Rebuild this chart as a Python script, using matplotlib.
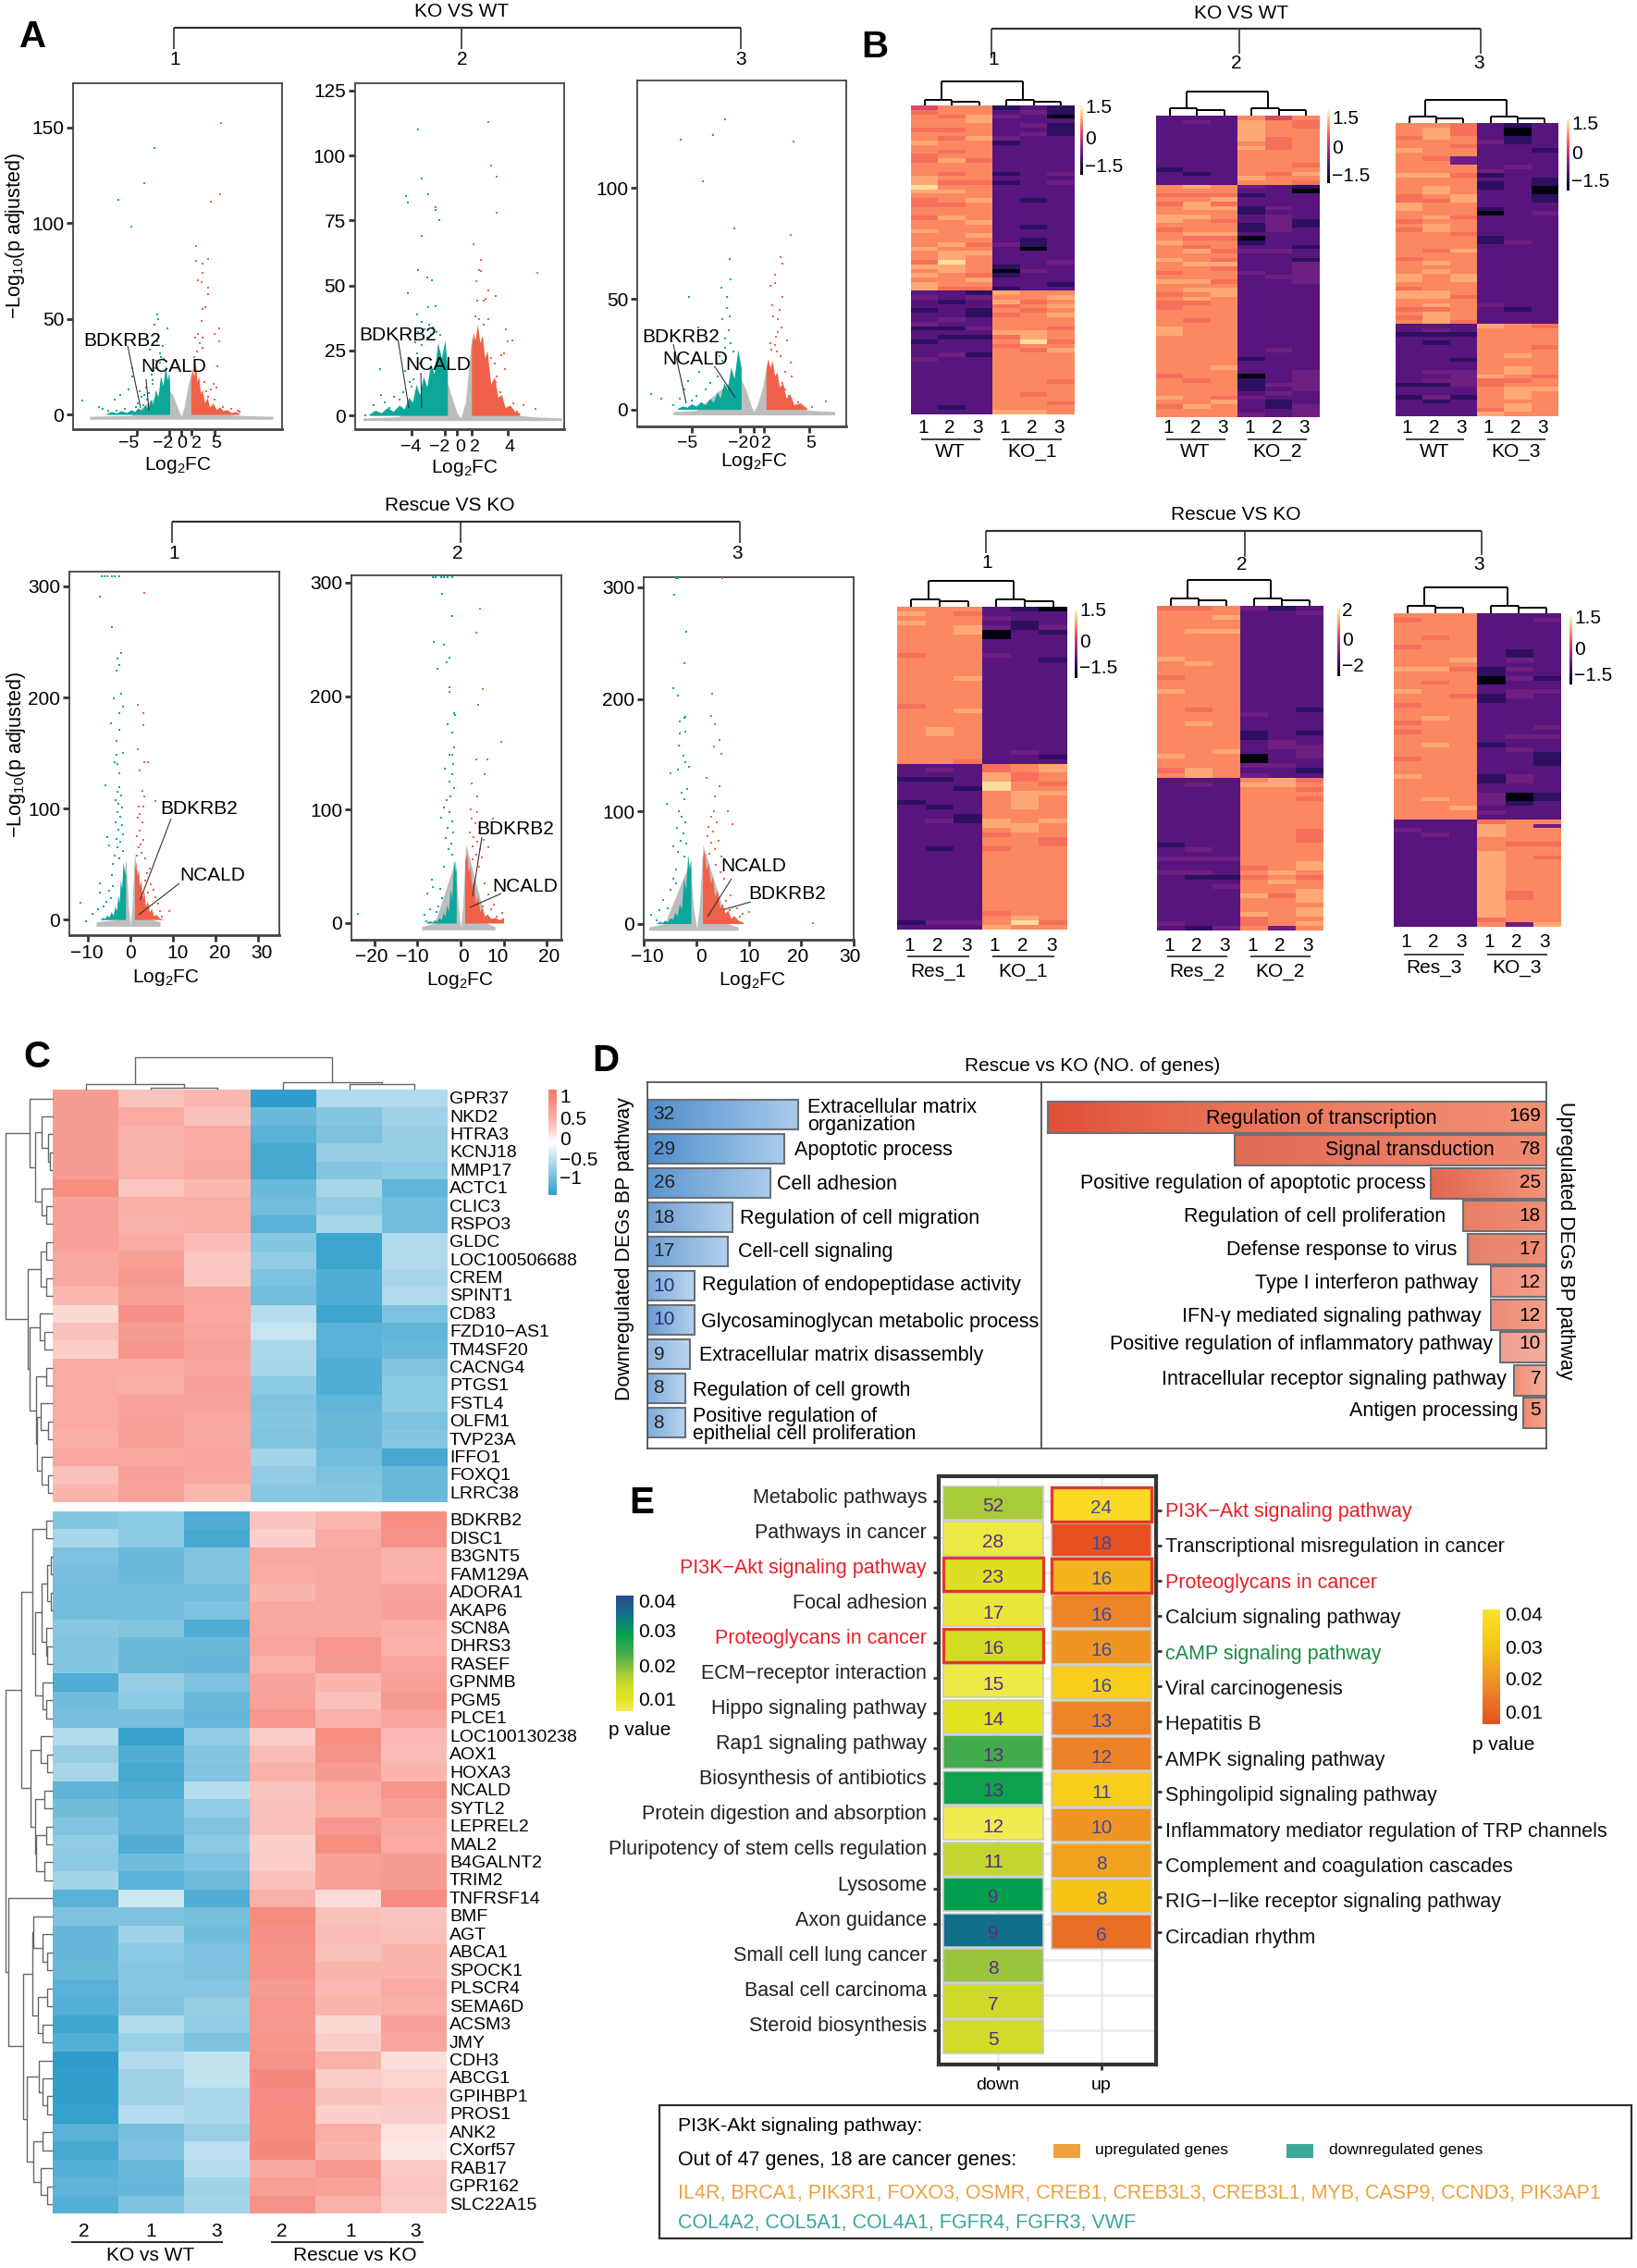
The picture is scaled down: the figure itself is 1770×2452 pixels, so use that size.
import numpy as np
import matplotlib
matplotlib.use("Agg")
import matplotlib.pyplot as plt
from matplotlib.cm import ScalarMappable
from matplotlib.colors import LinearSegmentedColormap, Normalize

plt.rcParams["font.family"] = ["Liberation Sans", "DejaVu Sans"]
plt.rcParams["mathtext.default"] = "regular"

W, H = 1770, 2452
TEAL, RED, GRAY = "#0aa79a", "#ee6148", "#bdbdbd"

# ---------- panel A: volcano plots, points and dense-cloud outlines
v1_teal = [(-7.6,112),(-6,98),(-4.5,121),(-3.2,139),(-2.9,52),(-2.8,50),(-3.2,47),(-1.7,45),(-3.8,34),(-11.9,7.5),(-9.9,4),(-8,8),(-7.3,10),(-6.3,13),(-5.9,20),(-5.9,24),(-4.8,9),(-4.2,14),(-3.6,21),(-3,28),(-2.6,32),(-5.2,6),(-6.8,3),(-7.8,2),(-8.8,2),(-9.4,3),(-5.5,4),(-4.6,5),(-4.1,8),(-3.4,16),(-2.2,36),(-2.4,30),(-2.9,38),(-3.5,18),(-3.9,11),(-2.6,27),(-2.1,29),(-3.1,24),(-4.4,10),(-5,12)]
v1_red = [(4.8,152),(4.7,115),(3.6,111),(1.8,88),(3.2,81),(1.8,80),(2.6,79),(2.5,74),(2,70),(2.4,69),(3.2,66),(3.2,63),(2.9,56),(2.5,55),(2.4,49),(4.5,45),(4,42),(4.5,38),(2,42),(2.6,40),(1.7,40),(2.2,37),(1.9,33),(2.6,35),(1.6,30),(4.3,25),(3.9,16),(4.2,14),(3.5,13),(3,12),(2.8,17),(3.2,9),(4,8),(5,4),(6,3),(6.8,2),(7,1.5)]
v1_teal_band = ([-9,-8.4,-7.8,-7.2,-6.6,-6,-5.6,-5.2,-4.8,-4.4,-4,-3.7,-3.4,-3.1,-2.8,-2.5,-2.2,-1.9,-1.7,-1.5,-1.4], [.5,1.5,.8,2,1,2.5,1.5,3.5,2,5,3,8,5,13,9,20,15,26,18,22,16])
v1_red_band = ([1.15,1.3,1.5,1.7,1.9,2.1,2.3,2.5,2.8,3.1,3.4,3.8,4.2,4.6,5,5.5,6,6.5,7], [18,24,20,27,17,20,11,13,6,9,4,6,2.5,4,2,2.5,1,1.5,.5])
v1_gray = ([-11,-6,-1.6,-1,-0.4,0,0.4,0.8,1.2,3,7,11], [-1,-0.5,14,10,3,-1,5,15,22,1,-0.5,-1])

v2_teal = [(-3.45,110),(-3.1,91),(-2.6,85),(-4.4,84.5),(-4.3,82),(-2,80),(-2,79),(-1.7,75),(-3.1,69),(-3.45,56),(-2.7,53),(-2.3,52),(-4.3,47),(-2,42),(-2.6,41.6),(-3.5,39),(-2.5,35),(-3.1,36),(-6.6,18),(-7.1,4),(-7.8,0.2),(-6.5,8),(-6.2,5),(-5.4,7),(-4.7,9),(-3.8,14),(-3.3,20),(-2.9,33),(-2.2,34),(-1.9,32),(-3.4,32),(-2.7,30),(-1.6,31),(-4.1,13),(-4.5,17),(-5,6),(-5.8,3),(-3.7,28),(-3.5,24),(-4,11),(-3.1,27),(-2.4,31)]
v2_red = [(2.4,113),(2.65,96),(3.1,92),(3.1,78),(1.2,66),(1.8,60),(1.6,56),(1.8,55.6),(1.4,51.5),(6.5,55),(2.4,48),(3,46),(2.2,45),(3.85,33),(4.4,29),(4,28.5),(3.7,24),(3.5,23),(3.8,18),(3,13),(2.9,7),(4.5,4.5),(5.3,4),(6.3,2.5),(4.2,1),(1.5,44),(2,44),(1.3,38),(1.6,37),(2,35),(2.4,37),(2.6,22),(2.9,20),(3.1,15),(3.4,9),(2.4,10),(3.6,3),(4,2),(4.8,1.5)]
v2_teal_band = ([-7.5,-7,-6.5,-6,-5.5,-5,-4.6,-4.2,-3.9,-3.6,-3.3,-3,-2.7,-2.4,-2.1,-1.8,-1.5,-1.2,-1], [.5,2,1,3,1.5,4,2.5,7,5,12,8,15,11,20,16,28,22,29,17])
v2_red_band = ([1,1.15,1.3,1.5,1.7,1.9,2.1,2.3,2.6,2.9,3.2,3.5,3.8,4.2,4.6,5], [26,32,29,35,28,31,22,25,12,15,7,8,3,4,1.5,1])
v2_gray = ([-8,-5,-1.2,-0.7,-0.2,0.1,0.5,1,3,6,8.5], [-1,-0.5,16,8,1,-1,5,30,1,-0.5,-1])

v3_teal = [(-2.5,131),(-3.5,124),(-6.3,122),(-4.4,103),(-1.7,82),(-2.1,68),(-2,59),(-2.8,55),(-5.6,51),(-2.3,51),(-2.3,46),(-2.1,42),(-2.7,41),(-2.2,36),(-4.8,37),(-2.5,32),(-8.9,7),(-8,5),(-7,2),(-6.4,5),(-6,9),(-5.7,13),(-4.7,17),(-3.4,19),(-2.5,28),(-2,30),(-3,24),(-3.8,12),(-4.2,9),(-5,6),(-5.4,4),(-3.1,15),(-1.8,26),(-2.7,22)]
v3_red = [(3.4,121),(3.2,79),(2.3,69),(2.5,66),(1.8,61),(1.8,57),(1.4,56),(2.5,51),(1.6,47),(2.2,45),(1.7,42),(2.1,41),(2.4,37),(2.1,35),(2.9,31),(3.2,21),(2.75,17),(2.5,12),(6.2,3.5),(5,1),(3.7,2),(3,6),(4.2,0.7),(1.4,30),(1.8,29),(2,26),(1.5,27),(2.3,24),(2.7,9),(3.3,15),(3.8,3),(1.9,33)]
v3_teal_band = ([-6.6,-6.2,-5.8,-5.4,-5,-4.6,-4.2,-3.8,-3.5,-3.2,-2.9,-2.6,-2.3,-2,-1.7,-1.4,-1.1], [.5,1.5,1,2.5,1.5,3.5,2,5,3,8,5,12,9,19,14,27,19])
v3_red_band = ([1.05,1.2,1.4,1.6,1.8,2,2.2,2.5,2.8,3.1,3.5,4,4.6], [18,23,19,22,15,17,10,12,5,7,2,3,.5])
v3_gray = ([-7,-5,-1.3,-0.7,-0.2,0,0.3,0.7,1.1,3,5,7], [-1,-0.5,16,9,1,-1,2,9,19,1,-0.5,-1])

v4_teal = [(-6.6,309),(-6,309),(-5.5,309),(-4.3,309),(-3.6,309),(-2.6,309),(-7.1,291),(-4.3,263),(-2.2,240),(-2.9,235),(-2.6,229),(-3.2,224),(-2.1,203),(-3.8,199),(-1.6,192),(-2.6,186),(-4.6,177),(-2.6,171),(-3.3,161),(-1.8,150),(-3.2,148),(-3.6,142),(-2.9,140),(-2.5,132),(-5.8,121),(-2.5,119),(-3,115),(-2.2,112),(-3.4,108),(-2.7,104),(-1.9,101),(-3.1,97),(-2.4,93),(-3.5,88),(-2,85),(-2.8,81),(-1.6,77),(-3.2,73),(-2.3,70),(-2.9,65),(-1.8,62),(-3.6,58),(-2.5,55),(-11.7,15),(-10.4,-1.5),(-8.8,5),(-7.5,9),(-7.1,24),(-7.1,33),(-4.2,50),(-4.9,67),(-5.5,74),(-6.2,12),(-5,26),(-4.4,40),(-4.1,30),(-5.6,16),(-4.6,19)]
v4_red = [(3.4,294),(1.7,193),(3,186),(3,175),(1.7,153),(3.4,142),(4.1,142),(2.1,134),(2.9,116),(3.2,111),(6,107),(9.2,7.5),(2,102),(3,102),(2.3,95),(1.8,92),(2.8,88),(2.2,80),(1.6,75),(3.1,72),(2.4,68),(1.9,65),(2.7,60),(3.5,55),(1.5,58),(4.5,46),(3.9,42),(4.8,32),(5.4,27),(5.9,20),(6.5,14),(6.9,8),(7.5,3),(4.2,24),(3.6,35)]
v4_teal_band = ([-7,-6.5,-6,-5.5,-5,-4.5,-4,-3.6,-3.2,-2.9,-2.6,-2.3,-2,-1.7,-1.4,-1.1], [.5,2,1,4,2,7,4,12,8,22,15,36,28,52,44,40])
v4_red_band = ([1,1.3,1.6,1.9,2.2,2.5,2.8,3.2,3.6,4,4.5,5,5.5,6,6.8,7.6], [46,52,40,45,30,36,20,26,12,17,7,10,3,5,1.5,.5])
v4_gray = ([-8,-3,-1,-0.4,0,0.4,1,3,7], [-2,0,55,10,-5,10,60,2,-2])

v5_teal = [(-6.4,305),(-5.8,305),(-4.5,305),(-3.9,305),(-3,305),(-1.9,305),(-4.3,290),(-1.9,271),(-6.2,248),(-3.9,245),(-2.6,234),(-3.2,230),(-5.4,224),(-2.6,208),(-2.6,204),(-1.5,185),(-1.3,183),(-3,175),(-1.9,168),(-1.5,155),(-2.6,148),(-1.9,148),(-1.8,140),(-3.6,136),(-1.9,131),(-2.6,125),(-1.5,119),(-2.3,112),(-3.1,108),(-3.9,102),(-2.5,98),(-4.5,93),(-2,90),(-2.9,84),(-1.7,80),(-3.4,75),(-2.2,70),(-2.8,65),(-1.9,60),(-23.7,8),(-7.7,26),(-6.7,38),(-6.4,32),(-3.9,50),(-8.4,7),(-7.1,12),(-5.2,15),(-8,1.5),(-4.6,30),(-4.2,22),(-5.6,10)]
v5_red = [(4.6,277),(3.6,256),(5.2,206),(4,192),(9.4,160),(3.6,144),(6.2,144),(5.7,131),(2.6,123),(3.9,112),(2.3,100),(7.5,92),(3.9,98),(6.4,67),(5.4,73),(9.7,9),(8.4,6),(7,12),(5.2,15),(2.6,92),(3.4,88),(4.4,85),(2.1,80),(3.1,76),(3.9,72),(4.6,65),(2.8,68),(5,58),(3.6,60),(4.4,50),(2.9,56),(5.6,35),(6.5,25),(7.8,16)]
v5_teal_band = ([-8,-7.2,-6.5,-6,-5.5,-5,-4.5,-4,-3.6,-3.2,-2.8,-2.4,-2,-1.6,-1.2,-1], [.5,2,1,3,1.5,5,3,9,6,16,10,30,22,56,45,50])
v5_red_band = ([1,1.4,1.8,2.2,2.6,3,3.5,4,4.5,5,5.6,6.2,7,8,9,10], [55,62,45,50,32,38,18,24,10,14,6,8,4,5,3,5])
v5_gray = ([-9,-6,-1.2,-0.5,0,0.5,1.2,6,8], [-3,0,55,14,-4,14,70,0,-3])

v6_teal = [(-3.9,308),(-3.4,308),(-4.1,293),(-1.9,260),(-2.3,232),(-4.4,210),(-3.5,203),(-2,184),(-2.2,183),(-3.1,180),(-3.1,169),(-2,171),(-3.3,159),(-2.4,150),(-2,144),(-1.4,140),(-3.5,137),(-4.9,134),(-1.7,120),(-2.8,117),(-2.2,111),(-5.6,107),(-3.3,100),(-2.7,95),(-2,90),(-3.7,85),(-2.4,80),(-3,74),(-1.9,71),(-4.4,69),(-3.4,64),(-2.2,60),(-8.6,8),(-7,12),(-6.3,21),(-4.9,30),(-3.8,36),(-5.5,14),(-7.5,3),(-4.4,40),(-3.9,48)]
v6_red = [(5,308),(3.1,205),(2.9,185),(3.6,178),(4.4,164),(3.4,158),(4.8,151),(2,130),(4.4,122),(3.6,113),(6,100),(7,89),(22.3,0.6),(10,10),(8.4,6.5),(6.3,12),(5.7,20),(3.4,100),(2.8,95),(3.9,90),(2.4,86),(3.2,82),(2.1,78),(4.3,74),(2.8,72),(3.6,66),(4.8,60),(2.5,62),(5.4,40),(4.6,46),(3.8,52),(6.6,25),(7.8,14),(8.8,9)]
v6_teal_band = ([-7.5,-7,-6.5,-6,-5.5,-5,-4.5,-4,-3.6,-3.2,-2.8,-2.4,-2,-1.6,-1.3,-1], [.5,2,1,3,1.5,5,4,10,7,18,13,40,30,62,48,58])
v6_red_band = ([1.2,1.5,1.9,2.3,2.7,3.1,3.5,4,4.5,5,5.5,6,6.6,7.2,8,9], [58,65,48,54,36,42,24,30,14,18,9,12,5,7,3,1])
v6_gray = ([-9,-6,-1.2,-0.5,0.1,0.6,1.3,6,8], [-3,0,55,14,-4,14,70,0,-3])

# ---------- panel B: heat map columns, one digit per row band (0 darkest, 9 lightest)
heat_levels = [.03, .17, .27, .33, .45, .6, .7, .75, .82, .93]
h1_cols = ["5677767787 7667778898 7667767787 7787768787 88 2322122312 2122232222 22222222",
           "7767767677 6787767678 7767787777 7878898877 76 2212223212 1222322222 22222212",
           "7788777877 7767777677 7877778778 7678777768 76 1322112232 1222122222 22222222",
           "1232222312 2222212122 2222222222 2322221012 21 8786767778 6767777777 77777778",
           "2322323222 2222222222 2122222122 1102222322 22 7767677778 8976777777 77767778",
           "1102111222 2222232322 2222222222 2222232222 12 7878787767 7678777777 67777677"]
h2_cols = ["2222222222 221222 7767677887 6778777877 6787767667 7778877777 7777677778 7677",
           "2322222222 222122 8767887877 7867687787 7787878677 7677777777 7777767777 7877",
           "2222222222 222222 7768687767 7867767686 7767887777 7777777777 7787777776 8777",
           "7888887877 777787 3212211221 1201232222 3222222222 2222222222 1222011123 2223",
           "5777766677 777677 2222232333 3222232222 2322222222 2222222232 2222223232 1122",
           "7667777777 767876 1022222211 2222122133 3332222222 2222222222 2223333322 2333"]
h3_cols = ["7776778777 7787777668 8776767777 7767778876 88776767 2212222222 2222122122 22",
           "7888777767 7787788767 7787887777 6778787777 88786888 2312122222 2323122312 22",
           "6667767733 7767777887 7767776777 8777778877 76777776 2212222212 2333322122 22",
           "2222322222 2312112222 1022222112 2222222222 22232222 8777777777 7786677777 68",
           "1001122222 3222222222 2222222232 2222222222 22221222 7777777877 8876788878 87",
           "2222221222 2221100112 2322222222 2222222222 22222222 6777767777 7767787777 77"]
h4_cols = ["7878777777 6777777777 7677777777 7777 2221222212 2222222222 2222222222 222212",
           "7777777777 7777777777 7777778877 7777 2321222221 2232222212 2222222222 222232",
           "7677887777 7777787777 7787777777 7776 2222212222 2112222222 2222222222 222232",
           "2232300222 3222222222 2222222222 2222 6688997777 7788767767 7777777777 776778",
           "1221122222 2222222222 2222222222 2322 7766778888 7778877777 7777777777 777897",
           "0222312222 2122222222 2222222222 2212 8877678777 7787776677 7777777777 777767"]
h5_cols = ["6777777777 7877767787 7777777777 7787767 2222222222 2222122322 3222222222 232",
           "6777787777 7787777777 7767787777 7777788 2322222222 2222232322 3122222222 221",
           "7787787777 7777777777 7777777777 7877777 2222222222 2222222322 2123222222 223",
           "3222222222 2222222222 2223222112 2200323 7877777777 7777777776 7677787778 667",
           "1222222222 2222222222 2222222223 3222322 8877777777 7777777777 8787767777 773",
           "2322222222 2222222222 2212222122 3332212 6767677777 7666777788 7677888788 787"]
h6_cols = ["7677777677 7787777877 6777676777 7767778777 777777 2232222222 2222222222 2222",
           "7777767777 7787767777 7778777778 7777777777 787777 2223222222 2222222222 2222",
           "7777777777 8767777767 7777777777 7777777777 777877 2222222222 2222222222 2222",
           "2222222222 2211002211 2222222221 2222221122 333232 6888777888 8888888888 8867",
           "2222222211 3232322332 2222222322 3222223322 001222 7777767777 7777776677 7773",
           "2322222222 2222122322 2222232322 2111222222 112222 7377767767 7777777777 7778"]

# ---------- panel C
c_genes_top = ["GPR37","NKD2","HTRA3","KCNJ18","MMP17","ACTC1","CLIC3","RSPO3","GLDC","LOC100506688","CREM","SPINT1","CD83","FZD10\u2212AS1","TM4SF20","CACNG4","PTGS1","FSTL4","OLFM1","TVP23A","IFFO1","FOXQ1","LRRC38"]
c_values_top = [[.75,.4,.5,-1.2,-.45,-.45],[.75,.6,.42,-.85,-.7,-.55],[.75,.55,.6,-.95,-.75,-.6],[.75,.55,.6,-1.05,-.6,-.6],[.75,.55,.62,-1.05,-.7,-.65],[.9,.38,.5,-.85,-.5,-.9],[.7,.58,.58,-.8,-.62,-.8],[.7,.55,.58,-.95,-.5,-.8],[.7,.6,.45,-.7,-1.1,-.45],[.62,.72,.38,-.62,-1.1,-.45],[.62,.78,.38,-.75,-1.0,-.5],[.5,.72,.65,-.8,-1.0,-.45],[.25,.88,.62,-.42,-1.1,-.75],[.42,.75,.65,-.32,-.95,-.9],[.32,.82,.68,-.48,-.95,-.85],[.6,.6,.65,-.5,-1.0,-.72],[.6,.58,.7,-.65,-1.0,-.65],[.6,.68,.68,-.72,-.9,-.65],[.6,.7,.62,-.7,-.85,-.75],[.58,.72,.62,-.72,-.85,-.7],[.62,.62,.65,-.52,-.8,-1.05],[.42,.7,.62,-.62,-.75,-.85],[.52,.68,.5,-.68,-.7,-.85]]
c_genes_bottom = ["BDKRB2","DISC1","B3GNT5","FAM129A","ADORA1","AKAP6","SCN8A","DHRS3","RASEF","GPNMB","PGM5","PLCE1","LOC100130238","AOX1","HOXA3","NCALD","SYTL2","LEPREL2","MAL2","B4GALNT2","TRIM2","TNFRSF14","BMF","AGT","ABCA1","SPOCK1","PLSCR4","SEMA6D","ACSM3","JMY","CDH3","ABCG1","GPIHBP1","PROS1","ANK2","CXorf57","RAB17","GPR162","SLC22A15"]
c_values_bottom = [[-.7,-.65,-1.0,.4,.5,.9],[-.5,-.65,-1.05,.3,.6,.85],[-.75,-.85,-.72,.62,.62,.55],[-.78,-.85,-.72,.6,.62,.55],[-.8,-.8,-.8,.52,.62,.68],[-.8,-.8,-.75,.62,.62,.7],[-.68,-.72,-1.0,.62,.62,.58],[-.72,-.85,-.85,.65,.8,.55],[-.7,-.85,-.88,.55,.78,.65],[-1.0,-.6,-.75,.68,.52,.7],[-.82,-.65,-.85,.68,.42,.78],[-.78,-.78,-.88,.8,.55,.65],[-.45,-1.15,-.62,.32,.9,.48],[-.6,-1.0,-.7,.45,.85,.45],[-.5,-1.05,-.72,.55,.75,.52],[-.92,-1.0,-.42,.4,.6,.82],[-.82,-.9,-.62,.42,.58,.72],[-.72,-.9,-.72,.42,.8,.62],[-.62,-1.0,-.65,.3,.9,.6],[-.65,-.82,-.75,.32,.7,.75],[-.52,-.95,-.82,.42,.72,.75],[-.95,-.3,-1.0,.55,.22,.92],[-.75,-.75,-.78,.95,.42,.4],[-.88,-.55,-.82,.88,.45,.42],[-.88,-.65,-.75,.85,.42,.52],[-.85,-.68,-.75,.85,.52,.52],[-.95,-.68,-.68,.75,.48,.6],[-.98,-.72,-.6,.8,.52,.58],[-1.1,-.45,-.62,.78,.25,.7],[-.98,-.58,-.75,.82,.32,.65],[-1.25,-.45,-.35,.85,.55,.2],[-1.18,-.55,-.35,1.0,.32,.28],[-1.18,-.55,-.48,.92,.42,.36],[-1.15,-.42,-.48,.95,.3,.32],[-.95,-.78,-.58,.95,.58,.18],[-1.05,-.75,-.38,1.0,.52,.15],[-.98,-.85,-.42,.62,.78,.35],[-.92,-.88,-.55,.72,.68,.38],[-.98,-.75,-.52,.85,.55,.35]]
c_col_labels = ["2","1","3","2","1","3"]
# row trees: (depth in px from the left, child, child), leaves are row numbers
c_tree_top = (6,(32,0,(38,(45,1,(52,2,(54,3,4))),(45,5,(50,6,7)))),(30,(44,(50,8,9),(50,10,11)),(32,(43,12,(48,13,14)),(39,(50,15,16),(40,(44,17,(52,18,19)),(45,20,(52,21,22)))))))
c_tree_bottom = (5.5,(23,(35,(50,0,1),(38,(45,(50.5,(55,2,3),(55,4,5)),(50,6,(50.5,7,8))),(45.5,9,(50,10,11)))),(33,(44,12,(50.5,13,14)),(38,(48,15,16),(39,(50,17,18),(48,19,20))))),(9,21,(25,(34.5,(36,22,(45.5,23,(50.5,24,25))),(41,(51,26,27),(46,28,29))),(28.6,(42,30,(46,31,(50.5,32,33))),(36,(45.5,34,35),(44,36,(50.5,37,38)))))))

# ---------- panel D
d_down_terms = ["Extracellular matrix\norganization","Apoptotic process","Cell adhesion","Regulation of cell migration","Cell-cell signaling","Regulation of endopeptidase activity","Glycosaminoglycan metabolic process","Extracellular matrix disassembly","Regulation of cell growth","Positive regulation of\nepithelial cell proliferation"]
d_down_counts = [32,29,26,18,17,10,10,9,8,8]
d_up_terms = ["Regulation of transcription","Signal transduction","Positive regulation of apoptotic process","Regulation of cell proliferation","Defense response to virus","Type I interferon pathway","IFN-\u03b3 mediated signaling pathway","Positive regulation of inflammatory pathway","Intracellular receptor signaling pathway","Antigen processing"]
d_up_counts = [169,78,25,18,17,12,12,10,7,5]
d_up_label_right = [1553,1616,1542,1563,1575,1598,1601,1614,1629,1642]
d_up_label_y = [1210,1244,1279,1315,1351,1387,1423,1454,1492,1525]
d_down_label_x = [873,859,840,800,798,759,758,756,749,749]
d_down_label_y = [1207,1244,1281,1317,1354,1390,1429,1466,1504,1541]
d_down_colors = [("#4f8dca","#a8cbeb"),("#4f8dca","#a8cbeb"),("#5a95ce","#a8cbeb"),("#6f9fd2","#b0cfec"),("#6f9fd2","#b0cfec"),("#7eabda","#b9d4ee"),("#6a9bd2","#b4d0ec"),("#8fb6e0","#b9d4ee"),("#7eabda","#b9d4ee"),("#7eabda","#b9d4ee")]
d_up_colors = [("#f18e72","#df5238"),("#f0896f","#df6b53"),("#f0947b","#e2674e"),("#f08d74","#e57f66"),("#f08d74","#e2806a"),("#f29d8a","#f0907f"),("#f2a088","#eb8c78"),("#f4ac9c","#f2a090"),("#f4ae9a","#ee9077"),("#f2a58d","#ec8a70")]

# ---------- panel E
e_down_terms = ["Metabolic pathways","Pathways in cancer","PI3K\u2212Akt signaling pathway","Focal adhesion","Proteoglycans in cancer","ECM\u2212receptor interaction","Hippo signaling pathway","Rap1 signaling pathway","Biosynthesis of antibiotics","Protein digestion and absorption","Pluripotency of stem cells regulation","Lysosome","Axon guidance","Small cell lung cancer","Basal cell carcinoma","Steroid biosynthesis"]
e_down_counts = [52,28,23,17,16,15,14,13,13,12,11,9,9,8,7,5]
e_down_p = [.0195,.0115,.0145,.012,.0158,.0112,.0135,.025,.029,.0105,.0175,.03,.035,.0205,.0165,.016]
e_down_boxed = [2,4]
e_up_terms = ["PI3K\u2212Akt signaling pathway","Transcriptional misregulation in cancer","Proteoglycans in cancer","Calcium signaling pathway","cAMP signaling pathway","Viral carcinogenesis","Hepatitis B","AMPK signaling pathway","Sphingolipid signaling pathway","Inflammatory mediator regulation of TRP channels","Complement and coagulation cascades","RIG\u2212I\u2212like receptor signaling pathway","Circadian rhythm"]
e_up_counts = [24,18,16,16,16,16,13,12,11,10,8,8,6]
e_up_p = [.037,.01,.027,.019,.022,.033,.019,.0185,.033,.022,.024,.03,.015]
e_up_boxed = [0,2]
genes_up = "IL4R, BRCA1, PIK3R1, FOXO3, OSMR, CREB1, CREB3L3, CREB3L1, MYB, CASP9, CCND3, PIK3AP1"
genes_down = "COL4A2, COL5A1, COL4A1, FGFR4, FGFR3, VWF"

fig = plt.figure(figsize=(W / 100, H / 100), dpi=100)


def ax_at(x0, y0, x1, y1):
    return fig.add_axes([x0 / W, 1 - y1 / H, (x1 - x0) / W, (y1 - y0) / H])


# overlay in picture pixels for free text and brackets
ov = ax_at(0, 0, W, H)
ov.set_xlim(0, W)
ov.set_ylim(H, 0)
ov.axis("off")
ov.set_zorder(20)
ov.patch.set_alpha(0)


def txt(x, y, s, size=15, ha="center", va="center", **kw):
    ov.text(x, y, s, fontsize=size, ha=ha, va=va, **kw)


def line(xs, ys, lw=1.2, color="#333333"):
    ov.plot(xs, ys, color=color, lw=lw, solid_capstyle="butt")


def bracket(x0, xm, x1, y, y0, ym, y1):
    line([x0, x1], [y, y], lw=1.6)
    line([x0, x0], [y, y0])
    line([xm, xm], [y, ym])
    line([x1, x1], [y, y1])


def volcano(box, xlim, ylim, xticks, xlabels, label_x, label_y, label_size, yticks, gray, teal_band, red_band, teal, red, gray_low):
    ax = ax_at(*box)
    ax.fill_between(gray[0], gray_low, gray[1], color=GRAY, lw=0, zorder=1)
    ax.fill_between(teal_band[0], 0, teal_band[1], color=TEAL, lw=0, zorder=2)
    ax.fill_between(red_band[0], 0, red_band[1], color=RED, lw=0, zorder=2)
    tx, ty = np.array(teal).T
    rx, ry = np.array(red).T
    ax.scatter(tx, ty, s=3.5, marker="s", color=TEAL, lw=0, zorder=3)
    ax.scatter(rx, ry, s=3.5, marker="s", color=RED, lw=0, zorder=3)
    ax.set_xlim(*xlim)
    ax.set_ylim(*ylim)
    ax.set_xticks(xticks)
    ax.set_xticklabels([])
    ax.set_yticks(yticks)
    ax.tick_params(labelsize=15, length=5, width=2, color="#333333", pad=2)
    for s in ax.spines.values():
        s.set_color("#444444")
        s.set_linewidth(1.3)
    ax.spines["bottom"].set_linewidth(2)
    # the tick labels sit off their ticks in the source, so they are placed one by one
    for x, s in zip(label_x, xlabels):
        txt(x, label_y, s, size=label_size)
    return ax


MINUS = "\u2212"
lab5 = [MINUS + "5", MINUS + "2", "0", "2", "5"]
lab10 = [MINUS + "10", "0", "10", "20", "30"]
volcano((79, 90, 305, 464), (-13, 12.1), (-7.7, 173), [-5.3, -1.5, 0, 1.2, 4], lab5, [139.5, 176, 197, 212, 234], 480, 14, [0, 50, 100, 150], v1_gray, v1_teal_band, v1_red_band, v1_teal, v1_red, -2.5)
volcano((383.5, 90, 610, 464), (-8.7, 8.7), (-5.3, 127.8), [-4, -1.2, -0.2, 1, 4], [MINUS + "4", MINUS + "2", "0", "2", "4"], [444, 475, 498, 513, 551], 484, 14, [0, 25, 50, 75, 100, 125], v2_gray, v2_teal_band, v2_red_band, v2_teal, v2_red, -2)
volcano((689, 87, 915, 461), (-10.1, 8), (-7.7, 148.7), [-5.4, -1.2, 0, 0.85, 4.8], lab5, [743, 798, 815, 828, 877], 479, 14, [0, 50, 100], v3_gray, v3_teal_band, v3_red_band, v3_teal, v3_red, -2.5)
volcano((75, 617.5, 302, 1011), (-14.3, 35), (-14, 313.7), [-10, 0, 10, 20, 30], lab10, [94, 140.6, 192, 237.6, 283], 1030, 15, [0, 100, 200, 300], v4_gray, v4_teal_band, v4_red_band, v4_teal, v4_red, -6)
volcano((380, 622, 607, 1016), (-25.3, 23.4), (-14.7, 306.5), [-20, -10, 0, 10, 20], [MINUS + "20", MINUS + "10", "0", "10", "20"], [402, 445.5, 501, 537.6, 594], 1035, 15, [0, 100, 200, 300], v5_gray, v5_teal_band, v5_red_band, v5_teal, v5_red, -6)
volcano((696, 623.6, 923, 1016), (-9.8, 30), (-14.4, 309), [-10, 0, 10, 20, 30], lab10, [700, 757.6, 810, 862.4, 919], 1035, 15, [0, 100, 200, 300], v6_gray, v6_teal_band, v6_red_band, v6_teal, v6_red, -6)

# panel A texts
txt(36, 40, "A", size=29, weight="bold")
txt(499, 13, "KO VS WT")
bracket(188, 499, 801, 30, 53, 53, 53)
for x, s in zip([189, 500, 801], "123"):
    txt(x, 65, s)
for x, y in [(192, 503), (502, 506), (815, 499), (179, 1057), (497, 1060), (813, 1060)]:
    txt(x, y, "Log$_2$FC")
ylab = "\u2212Log$_{10}$(p adjusted)"
txt(17, 255, ylab, rotation=90, size=15.5)
txt(18, 816, ylab, rotation=90, size=15.5)
txt(486, 546, "Rescue VS KO")
bracket(186, 497.6, 800, 564, 587, 587, 587)
for x, s in zip([188, 495, 797], "123"):
    txt(x, 598, s)
labels = [("BDKRB2", 132, 368, 138, 374, 152, 441), ("NCALD", 188, 397, 158, 410, 161, 444),
          ("BDKRB2", 430.5, 362, 430.5, 368, 442, 441), ("NCALD", 473.6, 394, 455, 403, 456, 441),
          ("BDKRB2", 736.5, 364, 728, 372, 742, 436), ("NCALD", 752, 388, 774, 398, 795, 430),
          ("BDKRB2", 215, 875, 185, 885, 151.5, 973), ("NCALD", 230, 946, 194, 955, 150, 989),
          ("BDKRB2", 557.6, 896, 521, 905, 511, 969), ("NCALD", 568, 958, 542, 966, 508, 981),
          ("NCALD", 815, 937, 791, 950, 765, 991), ("BDKRB2", 851.5, 966, 812, 975, 782, 983.5)]
for s, x, y, x0, y0, x1, y1 in labels:
    txt(x, y, s)
    line([x0, x1], [y0, y1], lw=0.8)


# panel B
def heat_b(cols, box, cbar_box, ticks, tick_y, lim, dendro_y, groups, lab_y):
    x0, y0, x1, y1 = box
    rows = [c.replace(" ", "") for c in cols]
    n = min(len(r) for r in rows)
    grid = np.array([[heat_levels[int(r[i])] for r in rows] for i in range(n)])
    ax = ax_at(*box)
    ax.imshow(grid, cmap="magma", vmin=0, vmax=1, aspect="auto", interpolation="nearest")
    ax.axis("off")
    cax = ax_at(*cbar_box)
    cb = fig.colorbar(ScalarMappable(Normalize(-lim, lim), "magma"), cax=cax)
    cb.outline.set_visible(False)
    cb.set_ticks([])
    for s, y in zip(ticks, tick_y):
        txt(cbar_box[2] + 2, y, s, ha="left")
    # column dendrogram
    w = (x1 - x0) / 6
    c = [x0 + (i + .5) * w for i in range(6)]
    top, mid = dendro_y
    for a in (0, 3):
        line([c[a], c[a + 1]], [mid, mid], lw=1.4, color="k")
        line([c[a + 1], c[a + 2]], [mid + 1.5, mid + 1.5], lw=1.4, color="k")
        line([c[a], c[a]], [mid, y0], lw=1.4, color="k")
        line([c[a + 1], c[a + 1]], [mid, y0], lw=1.4, color="k")
        line([c[a + 2], c[a + 2]], [mid + 1.5, y0], lw=1.4, color="k")
    xa, xb = (c[0] + c[1]) / 2 + 3, (c[3] + c[4]) / 2 + 3
    line([xa, xb], [top, top], lw=1.4, color="k")
    line([xa, xa], [top, mid], lw=1.4, color="k")
    line([xb, xb], [top, mid], lw=1.4, color="k")
    # sample labels
    for i in range(6):
        txt(c[i] - 2, lab_y[0], "123"[i % 3])
    for a, g in zip((0, 3), groups):
        line([c[a] - 4, c[a + 2] + 1], [lab_y[1], lab_y[1]], lw=1.3)
        txt((c[a] + c[a + 2]) / 2 - 2, lab_y[2], g)


heat_b(h1_cols, (985, 114, 1162, 448), (1168, 114, 1171, 189), ["1.5", "0", MINUS + "1.5"], [117, 151, 180], 1.5, (88, 108), ["WT", "KO_1"], (463, 475, 488))
heat_b(h2_cols, (1250, 125, 1427, 451), (1435, 119, 1438, 198), ["1.5", "0", MINUS + "1.5"], [128, 160, 190], 1.5, (99, 117), ["WT", "KO_2"], (463, 475, 488))
heat_b(h3_cols, (1509, 133, 1685, 450), (1694, 128, 1697, 206), ["1.5", "0", MINUS + "1.5"], [135, 167, 197], 1.5, (108, 126), ["WT", "KO_3"], (463, 475, 488))
heat_b(h4_cols, (970, 656, 1154, 1005), (1162, 659, 1165, 733), ["1.5", "0", MINUS + "1.5"], [661, 695, 723], 1.5, (628, 648), ["Res_1", "KO_1"], (1022, 1034, 1050))
heat_b(h5_cols, (1251, 655, 1431, 1006), (1446, 657, 1449, 731), ["2", "0", MINUS + "2"], [660, 693, 721], 2, (627, 647), ["Res_2", "KO_2"], (1022, 1034, 1050))
heat_b(h6_cols, (1507, 663, 1687, 1002), (1697, 666, 1700, 740), ["1.5", "0", MINUS + "1.5"], [668, 702, 731], 1.5, (635, 655), ["Res_3", "KO_3"], (1019, 1032, 1047))
txt(946, 51, "B", size=29, weight="bold")
txt(1342, 14, "KO VS WT")
bracket(1072, 1340, 1601, 31, 63, 58, 58)
for x, y, s in zip([1074, 1337, 1599], [65, 68, 68], "123"):
    txt(x, y, s)
txt(1336, 556, "Rescue VS KO")
bracket(1066, 1346, 1602, 574, 598, 602, 600)
for x, y, s in zip([1067, 1343, 1599], [608, 610, 610], "123"):
    txt(x, y, s)

# panel C
c_cmap = LinearSegmentedColormap.from_list("c", [(0, "#2e9dcb"), (.5, "#ffffff"), (.625, "#fbd0cb"), (.75, "#f9aba3"), (.875, "#f68e83"), (1, "#f47c70")])
c_norm = Normalize(-1.2, 1.2)
ax = ax_at(57, 1178, 484, 1624)
ax.pcolormesh(np.array(c_values_top)[::-1], cmap=c_cmap, norm=c_norm)
ax.axis("off")
ax = ax_at(57, 1634, 483, 2393)
ax.pcolormesh(np.array(c_values_bottom)[::-1], cmap=c_cmap, norm=c_norm)
ax.axis("off")
for i, g in enumerate(c_genes_top):
    txt(486, 1178 + 19.39 * (i + .5) + 1, g, size=14, ha="left")
for i, g in enumerate(c_genes_bottom):
    txt(486, 1634 + 19.46 * (i + .5) + 1, g, size=14, ha="left")


def row_tree(node, y0, step):
    # returns (x, y) of the node and draws its bracket
    if isinstance(node, int):
        return 57, y0 + step * (node + .5)
    xl, yl = row_tree(node[1], y0, step)
    xr, yr = row_tree(node[2], y0, step)
    x = node[0]
    line([xl, x, x, xr], [yl, yl, yr, yr], lw=1, color="#666666")
    return x, (yl + yr) / 2


_, yt = row_tree(c_tree_top, 1178, 19.39)
_, yb = row_tree(c_tree_bottom, 1634, 19.46)
# column dendrogram of C
line([145.6, 145.6, 359, 359], [1172, 1143, 1143, 1170], lw=1, color="#666666")
line([92.6, 92.6, 199, 199], [1178, 1172, 1172, 1176], lw=1, color="#666666")
line([163, 163, 235, 235], [1178, 1175.5, 1175.5, 1178], lw=1, color="#666666")
line([306, 306, 412.5, 412.5], [1178, 1170, 1170, 1172], lw=1, color="#666666")
line([377.5, 377.5, 448, 448], [1178, 1172, 1172, 1178], lw=1, color="#666666")
cax = ax_at(593, 1178, 602, 1292)
cb = fig.colorbar(ScalarMappable(c_norm, c_cmap), cax=cax)
cb.outline.set_visible(False)
cb.set_ticks([])
for s, y in zip(["1", "0.5", "0", MINUS + "0.5", MINUS + "1"], [1187, 1211, 1233, 1254, 1275]):
    txt(605, y, s, size=15, ha="left")
for x, s in zip([90.5, 163, 234, 305, 379, 449.5], c_col_labels):
    txt(x, 2412, s)
line([76.6, 241], [2424, 2424], lw=1.5)
line([293, 457.5], [2424, 2424], lw=1.5)
txt(163, 2439, "KO vs WT")
txt(384, 2439, "Rescue vs KO")
txt(40, 1143, "C", size=29, weight="bold")


# panel D
def grad_bar(ax, v, i, colors, h):
    cm = LinearSegmentedColormap.from_list("g", colors)
    xs = np.linspace(0, v, 41)
    vals = np.linspace(0, 1, 40)[None, :]
    ax.pcolormesh(xs, [i - h / 2, i + h / 2], vals, cmap=cm, vmin=0, vmax=1)
    ax.barh(i, v, height=h, fill=False, edgecolor="#6b6f75", lw=1.5)


ax = ax_at(700, 1170, 1126, 1566)
for i, v in enumerate(d_down_counts):
    grad_bar(ax, v, i, d_down_colors[i], 0.89)
    txt(706.5, 1205 + 37 * i, str(v), ha="left", color="#2b2b7a" if v == 10 else "#222222")
ax.set_xlim(0, 83.5)
ax.set_ylim(9.757, -0.946)
ax.set_xticks([])
ax.set_yticks([])
ax2 = ax_at(1126, 1170, 1672, 1566)
knots_v, knots_px = [0, 25, 78, 169, 300], [0, 125, 337, 539, 700]
ax2.set_xscale("function", functions=(lambda a: np.interp(a, knots_v, knots_px), lambda a: np.interp(a, knots_px, knots_v)))
for i, v in enumerate(d_up_counts):
    grad_bar(ax2, v, i, d_up_colors[i], 0.93)
ax2.set_xlim(174.7, 0)
ax2.set_ylim(10.08, -1.07)
ax2.set_xticks([])
ax2.set_yticks([])
ax2.minorticks_off()
for a in (ax, ax2):
    for s in a.spines.values():
        s.set_color("#555555")
        s.set_linewidth(1.3)
for i, s in enumerate(d_down_terms):
    txt(d_down_label_x[i], d_down_label_y[i], s, size=15.5, ha="left", linespacing=0.92)
for i, s in enumerate(d_up_terms):
    txt(d_up_label_right[i], d_up_label_y[i], s, size=15.5, ha="right")
    txt(1666, d_up_label_y[i] - 1 if i else 1207, str(d_up_counts[i]), ha="right")
txt(1181, 1152, "Rescue vs KO (NO. of genes)")
txt(675, 1350, "Downregulated DEGs BP pathway", rotation=90, size=15.5)
txt(1693, 1341, "Upregulated DEGs BP pathway", rotation=270, size=15.5)
txt(655, 1147, "D", size=29, weight="bold")

# panel E
down_cmap = LinearSegmentedColormap.from_list("d", [(0, "#f3ec5a"), (.117, "#e3e21f"), (.233, "#c9d92a"), (.333, "#a2c83b"), (.5, "#43ab4a"), (.667, "#02a04e"), (.833, "#12708a"), (1, "#2b4a90")])
up_cmap = LinearSegmentedColormap.from_list("u", [(0, "#e65020"), (.333, "#ee8a28"), (.667, "#f6c315"), (1, "#fbe32a")])
p_norm = Normalize(.01, .04)
ax = ax_at(1015, 1596, 1250, 2232)
left_ticks = np.arange(16) * 0.99 - 0.04
ax.set_axisbelow(True)
ax.grid(True, color="#ececec", lw=2)
for i, (n, p) in enumerate(zip(e_down_counts, e_down_p)):
    boxed = i in e_down_boxed
    ax.bar(0, .94, width=.923, bottom=i - .47, color=down_cmap(p_norm(p)), edgecolor="#e0392a" if boxed else "#c8c8c8", lw=2.4 if boxed else 1.2, zorder=3 + boxed)
    ax.text(0, i + .1, str(n), ha="center", va="center", fontsize=15, color="#5b2a8c", zorder=6)
for i, (n, p) in enumerate(zip(e_up_counts, e_up_p)):
    boxed = i in e_up_boxed
    ax.bar(1, .95, width=.923, bottom=i + .044 - .475, color=up_cmap(p_norm(p)), edgecolor="#e0392a" if boxed else "#c8c8c8", lw=2.4 if boxed else 1.2, zorder=3 + boxed)
    ax.text(1, i + .15, str(n), ha="center", va="center", fontsize=15, color="#3e4a9c", zorder=6)
ax.set_xlim(-.504, 1.504)
ax.set_ylim(15.78, -.753)
ax.set_xticks([.04, 1])
ax.set_xticklabels(["down", "up"], fontsize=14)
ax.set_yticks(left_ticks)
ax.set_yticklabels([])
ax.tick_params(length=4, width=2, color="#333333", pad=6)
for s in ax.spines.values():
    s.set_color("#333333")
    s.set_linewidth(3)
tw = ax.twinx()
tw.set_ylim(15.78, -.753)
tw.set_yticks(.21 + .987 * np.arange(13))
tw.set_yticklabels([])
tw.tick_params(length=4, width=2, color="#333333")
tw.spines[:].set_visible(False)
for i, s in enumerate(e_down_terms):
    c = "#e8202a" if i in e_down_boxed else "#222222"
    txt(1002, 1619 + 38.1 * i, s, size=15.5, ha="right", color=c)
for i, s in enumerate(e_up_terms):
    c = "#e8202a" if i in e_up_boxed else ("#1e8a46" if i == 4 else "#111111")
    txt(1260, 1634.5 + 38.4 * i, s, size=15.5, ha="left", color=c)
cax = ax_at(666, 1725, 685, 1850)
cb = fig.colorbar(ScalarMappable(p_norm, down_cmap), cax=cax)
cb.outline.set_visible(False)
cb.set_ticks([])
for s, y in zip(["0.04", "0.03", "0.02", "0.01"], [1733, 1765, 1802, 1838]):
    txt(690, y, s, size=15, ha="left")
txt(692, 1871, "p value", size=15)
cax = ax_at(1603, 1740, 1622, 1864)
cb = fig.colorbar(ScalarMappable(p_norm, up_cmap), cax=cax)
cb.outline.set_visible(False)
cb.set_ticks([])
for s, y in zip(["0.04", "0.03", "0.02", "0.01"], [1747, 1782, 1817, 1852]):
    txt(1627, y, s, size=15, ha="left")
txt(1626, 1886, "p value", size=15)
txt(694, 1625, "E", size=29, weight="bold")

# gene box under panel E
ov.add_patch(plt.Rectangle((713, 2276), 1051, 144, fill=False, edgecolor="#332c2a", lw=1.6))
txt(733, 2298, "PI3K-Akt signaling pathway:", size=15.3, ha="left")
txt(733, 2335, "Out of 47 genes, 18 are cancer genes:", size=15.5, ha="left")
txt(733, 2372, genes_up, size=15.5, ha="left", color="#f0a03c")
txt(733, 2403, genes_down, size=15.5, ha="left", color="#3aa69a")
ov.add_patch(plt.Rectangle((1139, 2318), 29, 15, color="#f0a03c", lw=0))
ov.add_patch(plt.Rectangle((1391, 2318), 29, 15, color="#3fa79a", lw=0))
txt(1184, 2325, "upregulated genes", size=12.5, ha="left")
txt(1437, 2325, "downregulated genes", size=12.5, ha="left")

fig.savefig("out.png", dpi=100)
